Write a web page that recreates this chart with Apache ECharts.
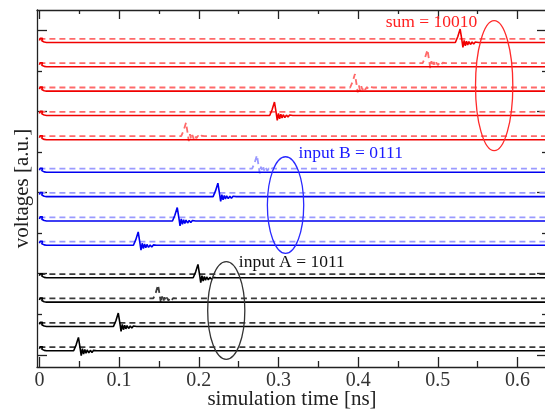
<!DOCTYPE html>
<html>
<head>
<meta charset="utf-8">
<script src="https://cdn.jsdelivr.net/npm/echarts@6/dist/echarts.min.js"></script>
<style>html,body{margin:0;padding:0;background:#fff}#c{width:545px;height:412px}</style>
</head>
<body>
<div id="c"></div>
<script>
// ---- data ----
const xTickValues = [0, 0.1, 0.2, 0.3, 0.4, 0.5, 0.6];
const xMinorTickValues = [0.05, 0.15, 0.25, 0.35, 0.45, 0.55];
const yMajorTicks = [0.3, 2.3, 4.3, 6.3, 8.3];
const yMinorTicks = [1.3, 3.3, 5.3, 7.3];

// sum rows (red), top to bottom
const sumBase  = [8.0, 7.4, 6.8, 6.2, 5.6];
const sumTime  = [0.528, 0.487, 0.396, 0.295, 0.184];
const sumBits  = [1, 0, 0, 1, 0];
// input B rows (blue)
const bBase = [4.8, 4.2, 3.6, 3.0];
const bTime = [0.273, 0.224, 0.173, 0.124];
const bBits = [0, 1, 1, 1];
// input A rows (black)
const aBase = [2.2, 1.6, 1.0, 0.4];
const aTime = [0.199, 0.149, 0.099, 0.049];
const aBits = [1, 0, 1, 1];

const dashOffset = 0.09;
// pulse shape (time offset from peak [ns], amplitude [a.u.])
const pulseDt  = [-0.006, -0.003, 0, 0.002, 0.0035, 0.005, 0.0065, 0.008, 0.0095, 0.011, 0.013, 0.015, 0.017, 0.019, 0.021, 0.023, 0.025, 0.027, 0.029, 0.032, 0.036];
const pulseAmp = [0, 0.14, 0.33, 0.08, -0.12, 0.05, -0.08, 0.03, -0.06, 0.02, -0.05, 0.01, -0.04, 0.01, -0.035, 0.0, -0.03, 0.0, -0.02, 0.0, 0.0];
// start transient at t = 0
const startDt  = [0, 0.001, 0.004, 0.005, 0.003, 0.002, 0.006, 0.009];
const startAmp = [0.05, 0.1, 0.1, 0.06, 0.04, 0.06, 0.01, 0];

// ellipses: centre x, centre y, radius x, radius y
const ellipseX  = [0.5707, 0.3089, 0.2345];
const ellipseY  = [6.934, 3.993, 1.393];
const ellipseRx = [0.0234, 0.0228, 0.0233];
const ellipseRy = [1.602, 1.19, 1.203];
const ellipseColors = ['#ff2a2a', '#2a2aff', '#333333'];

// annotation texts
const noteText = ['sum = 10010', 'input B = 0111', 'input A = 1011'];
const noteX = [0.4345, 0.3253, 0.2502];
const noteY = [8.504, 5.275, 2.588];
const noteColors = ['#ff2020', '#1a1aff', '#111111'];

const xMin = -0.003, xMax = 0.637;
const yMin = 0, yMax = 8.8;

// ---- build series ----
const series = [];
function addRows(bases, times, bits, solidColor, dashColor) {
  bases.forEach((base, r) => {
    const dBase = base + dashOffset;
    const solid = startDt.map((d, i) => [d, base + startAmp[i]]);
    const dashed = [[0, dBase]];
    const target = bits[r] ? solid : dashed;
    const b = bits[r] ? base : dBase;
    pulseDt.forEach((d, i) => target.push([times[r] + d, b + pulseAmp[i]]));
    solid.push([xMax, base]);
    dashed.push([xMax, dBase]);
    series.push({type: 'line', data: dashed, symbol: 'none', silent: true, z: 2,
      lineStyle: {color: dashColor, width: 1.8, type: [6, 4]}});
    series.push({type: 'line', data: solid, symbol: 'none', silent: true, z: 3,
      lineStyle: {color: solidColor, width: 1.6}});
  });
}
addRows(sumBase, sumTime, sumBits, '#f00000', '#ff6a6a');
addRows(bBase, bTime, bBits, '#0000f0', '#9a9aff');
addRows(aBase, aTime, aBits, '#000000', '#3a3a3a');

series.push({
  type: 'custom', silent: true, clip: false, z: 5,
  data: ellipseX.map((x, i) => [x, ellipseY[i], ellipseRx[i], ellipseRy[i], i]),
  renderItem: (params, api) => {
    const c = api.coord([api.value(0), api.value(1)]);
    const s = api.size([api.value(2), api.value(3)]);
    return {type: 'ellipse', shape: {cx: c[0], cy: c[1], rx: s[0], ry: s[1]},
      style: {fill: 'none', stroke: ellipseColors[api.value(4)], lineWidth: 1.3}};
  }
});
series.push({
  type: 'custom', silent: true, clip: false, z: 6,
  data: noteX.map((x, i) => [x, noteY[i], i]),
  renderItem: (params, api) => {
    const c = api.coord([api.value(0), api.value(1)]);
    const i = api.value(2);
    return {type: 'text', x: c[0], y: c[1],
      style: {text: noteText[i], fill: noteColors[i], font: '17.5px "Liberation Serif"',
        textAlign: 'left', textVerticalAlign: 'middle'}};
  }
});

const frame = {show: true, onZero: false, lineStyle: {color: '#222', width: 1.3}};
const noLine = {show: false, onZero: false};
const tickStyle = {color: '#222', width: 1.3};
const fmt = v => String(Math.round(v * 10) / 10);
const chart = echarts.init(document.getElementById('c'), null, {renderer: 'canvas'});
chart.setOption({
  animation: false,
  grid: {left: 37, top: 10, width: 510, height: 357, containLabel: false, outerBoundsMode: 'none'},
  xAxis: [
    {type: 'value', position: 'bottom', min: xMin, max: xMax,
      name: 'simulation time [ns]', nameLocation: 'middle', nameGap: 22, nameMoveOverlap: false,
      nameTextStyle: {fontFamily: 'Liberation Serif', fontSize: 21, color: '#222'},
      axisLine: frame, splitLine: {show: false},
      axisTick: {inside: true, length: 10, customValues: xTickValues, lineStyle: tickStyle},
      axisLabel: {customValues: xTickValues, formatter: fmt, margin: 4,
        fontFamily: 'Liberation Serif', fontSize: 20, color: '#333'}},
    {type: 'value', position: 'bottom', min: xMin, max: xMax,
      axisLine: noLine, splitLine: {show: false}, axisLabel: {show: false},
      axisTick: {inside: true, length: 6, customValues: xMinorTickValues, lineStyle: tickStyle}},
    {type: 'value', position: 'top', min: xMin, max: xMax,
      axisLine: frame, splitLine: {show: false}, axisLabel: {show: false},
      axisTick: {inside: true, length: 9, customValues: xTickValues, lineStyle: tickStyle}},
    {type: 'value', position: 'top', min: xMin, max: xMax,
      axisLine: noLine, splitLine: {show: false}, axisLabel: {show: false},
      axisTick: {inside: true, length: 4, customValues: xMinorTickValues, lineStyle: tickStyle}}
  ],
  yAxis: [
    {type: 'value', position: 'left', min: yMin, max: yMax,
      name: 'voltages [a.u.]', nameLocation: 'middle', nameGap: 4, nameMoveOverlap: false,
      nameTextStyle: {fontFamily: 'Liberation Serif', fontSize: 21, color: '#222'},
      axisLine: frame, splitLine: {show: false}, axisLabel: {show: false},
      axisTick: {inside: true, length: 10, customValues: yMajorTicks, lineStyle: tickStyle}},
    {type: 'value', position: 'left', min: yMin, max: yMax,
      axisLine: noLine, splitLine: {show: false}, axisLabel: {show: false},
      axisTick: {inside: true, length: 5, customValues: yMinorTicks, lineStyle: tickStyle}},
    {type: 'value', position: 'right', min: yMin, max: yMax,
      axisLine: frame, splitLine: {show: false}, axisLabel: {show: false},
      axisTick: {inside: true, length: 10, customValues: yMajorTicks, lineStyle: tickStyle}},
    {type: 'value', position: 'right', min: yMin, max: yMax,
      axisLine: noLine, splitLine: {show: false}, axisLabel: {show: false},
      axisTick: {inside: true, length: 5, customValues: yMinorTicks, lineStyle: tickStyle}}
  ],
  series: series
});
</script>
</body>
</html>
